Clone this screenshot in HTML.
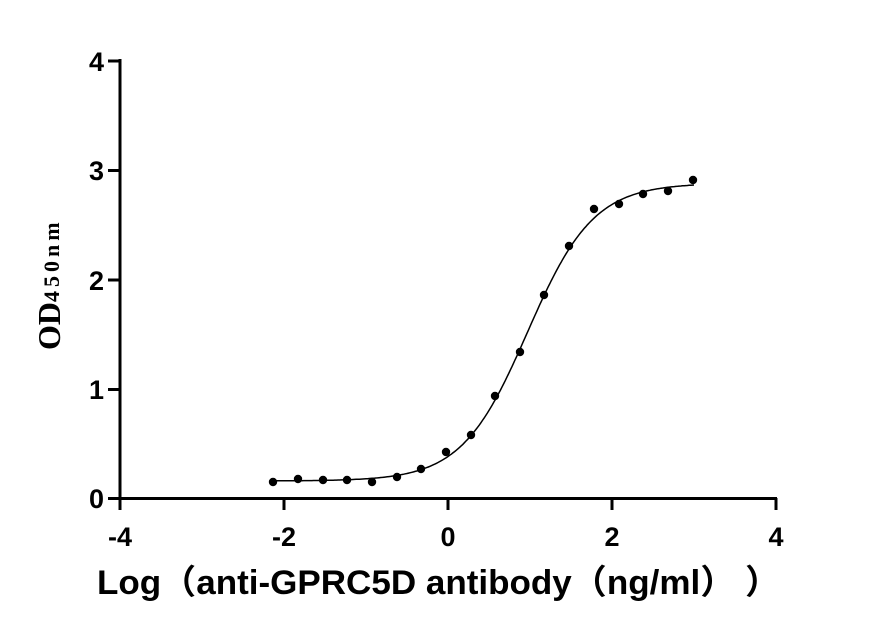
<!DOCTYPE html>
<html><head><meta charset="utf-8"><style>
body{margin:0;background:#fff}
svg{display:block}
.t{font-family:"Liberation Sans",Arial,sans-serif;font-weight:bold;font-size:27px}
</style></head><body>
<svg id="s" width="875" height="633" xmlns="http://www.w3.org/2000/svg">
<g stroke="#000" stroke-width="3" fill="none">
<line x1="120" y1="59" x2="120" y2="500"/>
<line x1="118.5" y1="498.5" x2="777" y2="498.5"/>
<line x1="108" y1="61" x2="120" y2="61"/>
<line x1="108" y1="170.5" x2="120" y2="170.5"/>
<line x1="108" y1="280" x2="120" y2="280"/>
<line x1="108" y1="389.5" x2="120" y2="389.5"/>
<line x1="108" y1="498.5" x2="120" y2="498.5"/>
<line x1="120" y1="498" x2="120" y2="510"/>
<line x1="284" y1="498" x2="284" y2="510"/>
<line x1="448" y1="498" x2="448" y2="510"/>
<line x1="612" y1="498" x2="612" y2="510"/>
<line x1="776" y1="498" x2="776" y2="510"/>
</g>
<g class="t" text-anchor="end">
<text x="104" y="71">4</text><text x="104" y="180">3</text><text x="104" y="290">2</text><text x="104" y="399">1</text><text x="104" y="508">0</text>
</g>
<g class="t" text-anchor="middle">
<text x="120" y="546">-4</text><text x="284" y="546">-2</text><text x="448" y="546">0</text><text x="612" y="546">2</text><text x="776" y="546">4</text>
</g>
<text x="97" y="594" textLength="683" lengthAdjust="spacingAndGlyphs" style="font-family:'Liberation Sans','Noto Sans CJK SC',sans-serif;font-weight:bold;font-size:34px">Log（anti-GPRC5D antibody（ng/ml）  ）</text>
<text transform="translate(60,350) rotate(-90)" style="font-family:'Liberation Serif',serif;font-weight:bold;font-size:32px">OD<tspan font-size="22" letter-spacing="4" dy="-1">450nm</tspan></text>
<path id="c" fill="none" stroke="#000" stroke-width="1.5"/>
<g id="p" fill="#000"></g>
</svg>
<script>
var X=function(v){return 448+82*v},Y=function(v){return 498.5-109.5*v};
function f(x){return 0.16+(2.88-0.16)/(1+Math.pow(10,(0.97-x)*1.08));}
var d="";for(var x=-2.1;x<=3.001;x+=0.02){d+=(d?"L":"M")+X(x).toFixed(1)+","+Y(f(x)).toFixed(1);}
document.getElementById("c").setAttribute("d",d);
var pts=[[273,482],[298,479],[323,480],[347,480],[372,482],[397,477],[421,469],[446,452],[471,435],[495,396],[520,352],[544,295],[569,246],[594,209],[619,204],[643,194],[668,191],[693,180]];
var g=document.getElementById("p"),h="";
pts.forEach(function(p){h+='<circle cx="'+p[0]+'" cy="'+p[1]+'" r="4.2"/>';});
g.innerHTML=h;
</script>
</body></html>
